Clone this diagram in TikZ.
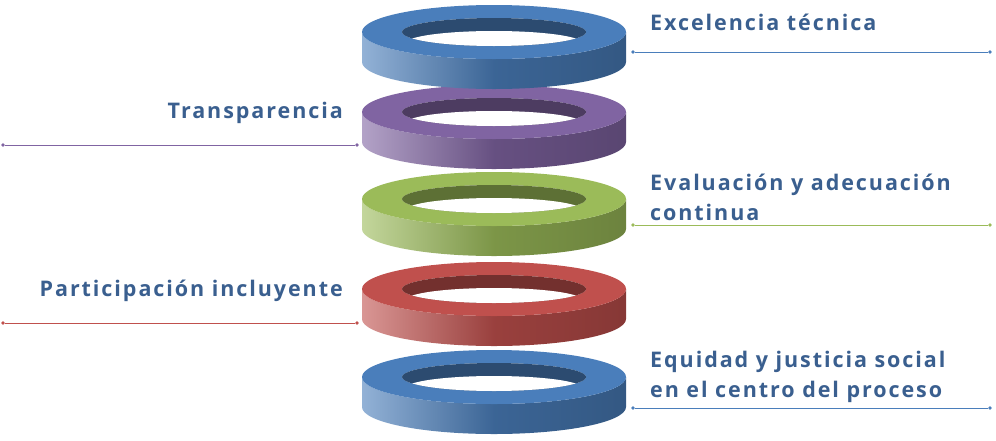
\documentclass[tikz,border=0pt]{standalone}
\usepackage{fontspec}
\setmainfont{Open Sans}[LetterSpace=9]
\definecolor{ringblue}{HTML}{4A7EBB}
\definecolor{ringpurple}{HTML}{8064A2}
\definecolor{ringgreen}{HTML}{9BBB59}
\definecolor{ringred}{HTML}{C0504D}
\definecolor{labelblue}{HTML}{3A5F8F}
\newcommand{\ring}[2]{%
\shade[left color=#2!60,right color=#2!70!black,middle color=#2!80!black]
(362,#1)--(362,#1-30) arc[start angle=180,end angle=360,x radius=132,y radius=27]
--(626,#1) arc[start angle=0,end angle=-180,x radius=132,y radius=27]--cycle;
\fill[#2,even odd rule] (494,#1) ellipse[x radius=132,y radius=27]
(494,#1) ellipse[x radius=92,y radius=14];
\fill[#2!60!black] (494,#1) ellipse[x radius=92,y radius=14];
\begin{scope}
\clip (494,#1) ellipse[x radius=92,y radius=14];
\fill[white] (494,#1-11) ellipse[x radius=88,y radius=12];
\end{scope}
}
\begin{document}
\begin{tikzpicture}[x=1pt,y=1pt,
lbl/.style={%
font=\bfseries\fontsize{21.5}{30}\selectfont,
text=labelblue,
align=left,
inner sep=0pt,
},
lead/.style={%
line width=0.8pt,
},
dot/.style={%
circle,
fill,
inner sep=1.3pt,
},
]
\useasboundingbox (0,-440) rectangle (996,0);
%% Rings
\ring{-377}{ringblue}
\ring{-289}{ringred}
\ring{-199}{ringgreen}
\ring{-112}{ringpurple}
\ring{-32}{ringblue}
%% Labels
\node[lbl,anchor=west] (tec) at (650,-22) {Excelencia técnica};
\node[lbl,anchor=east] (tra) at (343,-113) {Transparencia};
\node[lbl,anchor=west] (eva) at (650,-197) {Evaluación y adecuación\\continua};
\node[lbl,anchor=east] (par) at (343,-291) {Participación incluyente};
\node[lbl,anchor=west] (equ) at (650,-377) {Equidad y justicia social\\en el centro del proceso};
%% Leaders
\foreach \n/\c/\y/\xa/\xb in {a/ringblue/52/633/990, b/ringpurple/145/3/357, c/ringgreen/225/633/990, d/ringred/323/3/357, e/ringblue/408/633/990}{%
\node[dot,\c] (\n1) at (\xa,-\y) {};
\node[dot,\c] (\n2) at (\xb,-\y) {};
\draw[lead,\c] (\n1)--(\n2);
}
\end{tikzpicture}
\end{document}
